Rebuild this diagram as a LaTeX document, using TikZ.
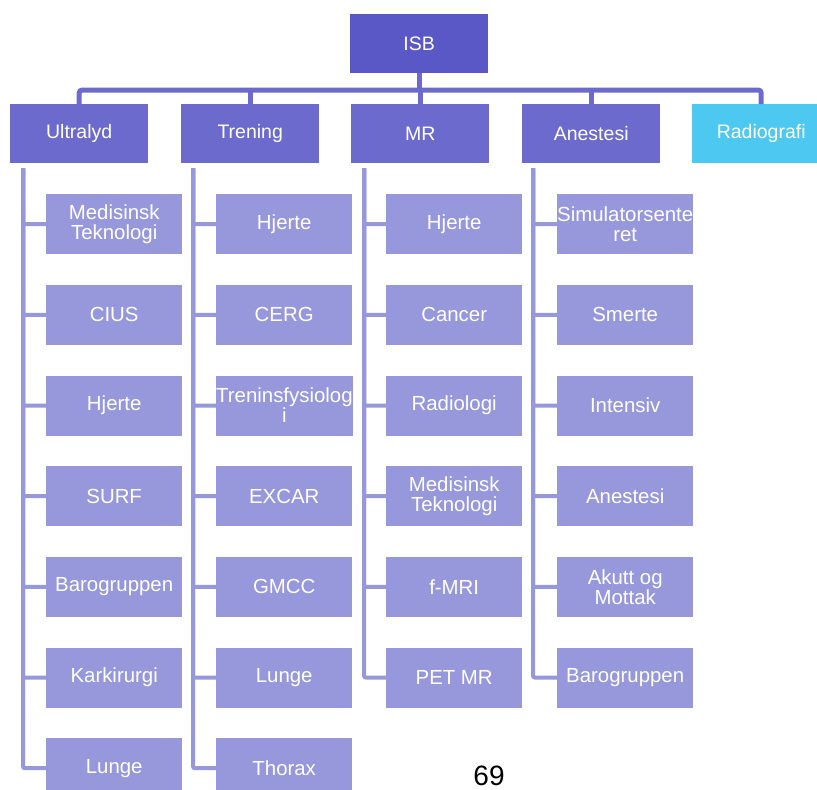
\documentclass[tikz,border=0pt]{standalone}
\usepackage{fontspec}
\setmainfont{Liberation Sans}
\definecolor{rootcol}{HTML}{5A57C7}
\definecolor{headcol}{HTML}{6C6BCD}
\definecolor{leafcol}{HTML}{9797DC}
\definecolor{skycol}{HTML}{4DC9F1}
\begin{document}
\begin{tikzpicture}[x=1pt,y=-1pt,
  lbl/.style={inner sep=0pt,text=white,align=center,anchor=north west,
    font=\fontsize{19.5}{20}\selectfont},
  headbox/.style={lbl,fill=headcol,minimum width=138pt,minimum height=59pt},
  leafbox/.style={lbl,fill=leafcol,minimum width=136pt,minimum height=60pt,
    font=\fontsize{20.4}{20}\selectfont},
  topline/.style={draw=headcol,line width=5pt,rounded corners=3pt},
  leafline/.style={draw=leafcol,line width=4pt,rounded corners=2pt}]
\clip (0,0) rectangle (817,790);

% root and first level
\node[headbox,fill=rootcol] (isb) at (350,14) {ISB};
\node[headbox] (ul) at (10,104) {Ultralyd};
\node[headbox] (tr) at (181,104) {Trening};
\node[headbox] (mr) at (351,104) {MR};
\node[headbox] (an) at (522,104) {Anestesi};
\node[headbox,fill=skycol] (ra) at (692,104) {Radiografi};

% second level
\foreach \t [count=\i] in {{Medisinsk\\Teknologi},CIUS,Hjerte,SURF,Barogruppen,Karkirurgi,Lunge}
  \node[leafbox] (ul\i) at (46,{194+90.67*(\i-1)}) {\t};
\foreach \t [count=\i] in {Hjerte,CERG,{Treninsfysiolog\\i},EXCAR,GMCC,Lunge,Thorax}
  \node[leafbox] (tr\i) at (216,{194+90.67*(\i-1)}) {\t};
\foreach \t [count=\i] in {Hjerte,Cancer,Radiologi,{Medisinsk\\Teknologi},f-MRI,PET MR}
  \node[leafbox] (mr\i) at (386,{194+90.67*(\i-1)}) {\t};
\foreach \t [count=\i] in {{Simulatorsente\\ret},Smerte,Intensiv,Anestesi,{Akutt og\\Mottak},Barogruppen}
  \node[leafbox] (an\i) at (557,{194+90.67*(\i-1)}) {\t};

% connectors from the root
\coordinate (bar) at (0,90);
\draw[topline] (isb.south) -- (isb.south |- bar);
\draw[topline] (ul.north) |- (ra.north |- bar) -- (ra.north);
\foreach \h in {tr,mr,an}
  \draw[topline] (\h.north) -- (\h.north |- bar);

% connectors to the second level
\foreach \i in {7,...,1}
  \draw[leafline] ([xshift=13pt,yshift=-5pt]ul.south west) |- (ul\i.west);
\foreach \i in {7,...,1}
  \draw[leafline] ([xshift=12pt,yshift=-5pt]tr.south west) |- (tr\i.west);
\foreach \i in {6,...,1}
  \draw[leafline] ([xshift=13pt,yshift=-5pt]mr.south west) |- (mr\i.west);
\foreach \i in {6,...,1}
  \draw[leafline] ([xshift=11pt,yshift=-5pt]an.south west) |- (an\i.west);

% page number
\node[font=\fontsize{28}{30}\selectfont,anchor=base,inner sep=0pt] (pg) at (489,785) {69};
\end{tikzpicture}
\end{document}
